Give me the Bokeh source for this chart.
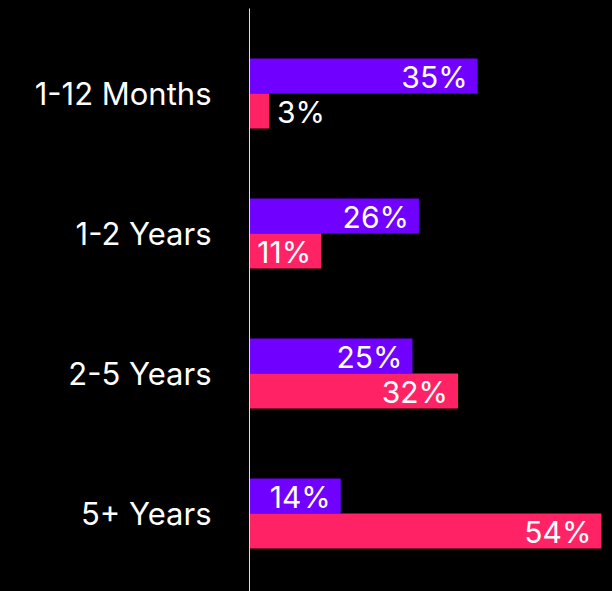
from bokeh.plotting import figure
from bokeh.models import ColumnDataSource, Range1d, FixedTicker
from bokeh.core.properties import value
from bokeh.embed import file_html
from bokeh.resources import INLINE

categories = ["1-12 Months", "1-2 Years", "2-5 Years", "5+ Years"]
series_a = [35, 26, 25, 14]   # purple
series_b = [3, 11, 32, 54]    # pink

PURPLE = "#7000FF"
PINK = "#FF2366"
FONT = "Inter"

pos = list(range(len(categories)))

p = figure(width=612, height=591, output_backend="svg", toolbar_location=None,
           x_range=Range1d(0, 55.7), y_range=Range1d(3.557, -0.607),
           background_fill_color="black", border_fill_color="black",
           outline_line_color=None, min_border_left=249, min_border_right=0,
           min_border_top=8, min_border_bottom=0)

src_a = ColumnDataSource(dict(y=[v - 0.125 for v in pos], x=series_a))
src_b = ColumnDataSource(dict(y=[v + 0.125 for v in pos], x=series_b))

p.hbar(y="y", right="x", left=0, height=0.25, color=PURPLE, line_color=None, source=src_a)
p.hbar(y="y", right="x", left=0, height=0.25, color=PINK, line_color=None, source=src_b)

THRESH = 8
for vals, ys in ((series_a, src_a.data["y"]), (series_b, src_b.data["y"])):
    ins = [i for i, v in enumerate(vals) if v >= THRESH]
    outs = [i for i, v in enumerate(vals) if v < THRESH]
    if ins:
        p.text(x=[vals[i] for i in ins], y=[ys[i] for i in ins],
               text=[f"{vals[i]}%" for i in ins], text_color="white",
               text_align="right", text_baseline="middle", x_offset=-10, y_offset=1,
               text_font=value(FONT), text_font_size="30px")
    if outs:
        p.text(x=[vals[i] for i in outs], y=[ys[i] for i in outs],
               text=[f"{vals[i]}%" for i in outs], text_color="white",
               text_align="left", text_baseline="middle", x_offset=8, y_offset=1,
               text_font=value(FONT), text_font_size="30px")

p.xaxis.visible = False
p.xgrid.visible = False
p.ygrid.visible = False
yax = p.yaxis[0]
yax.ticker = FixedTicker(ticks=pos)
yax.major_label_overrides = {i: c for i, c in zip(pos, categories)}
yax.major_tick_line_color = None
yax.minor_tick_line_color = None
yax.axis_line_color = "#DDDDDD"
yax.axis_line_width = 1
yax.major_label_text_color = "white"
yax.major_label_text_font = FONT
yax.major_label_text_font_size = "31px"
yax.major_label_standoff = 32

html = file_html(p, INLINE)
html = html.replace("<body>", '<body style="background-color:black;">', 1)
html = html.replace("</head>", "<style>html,body{background:#000;}</style></head>", 1)
open("out.html", "w").write(html)
